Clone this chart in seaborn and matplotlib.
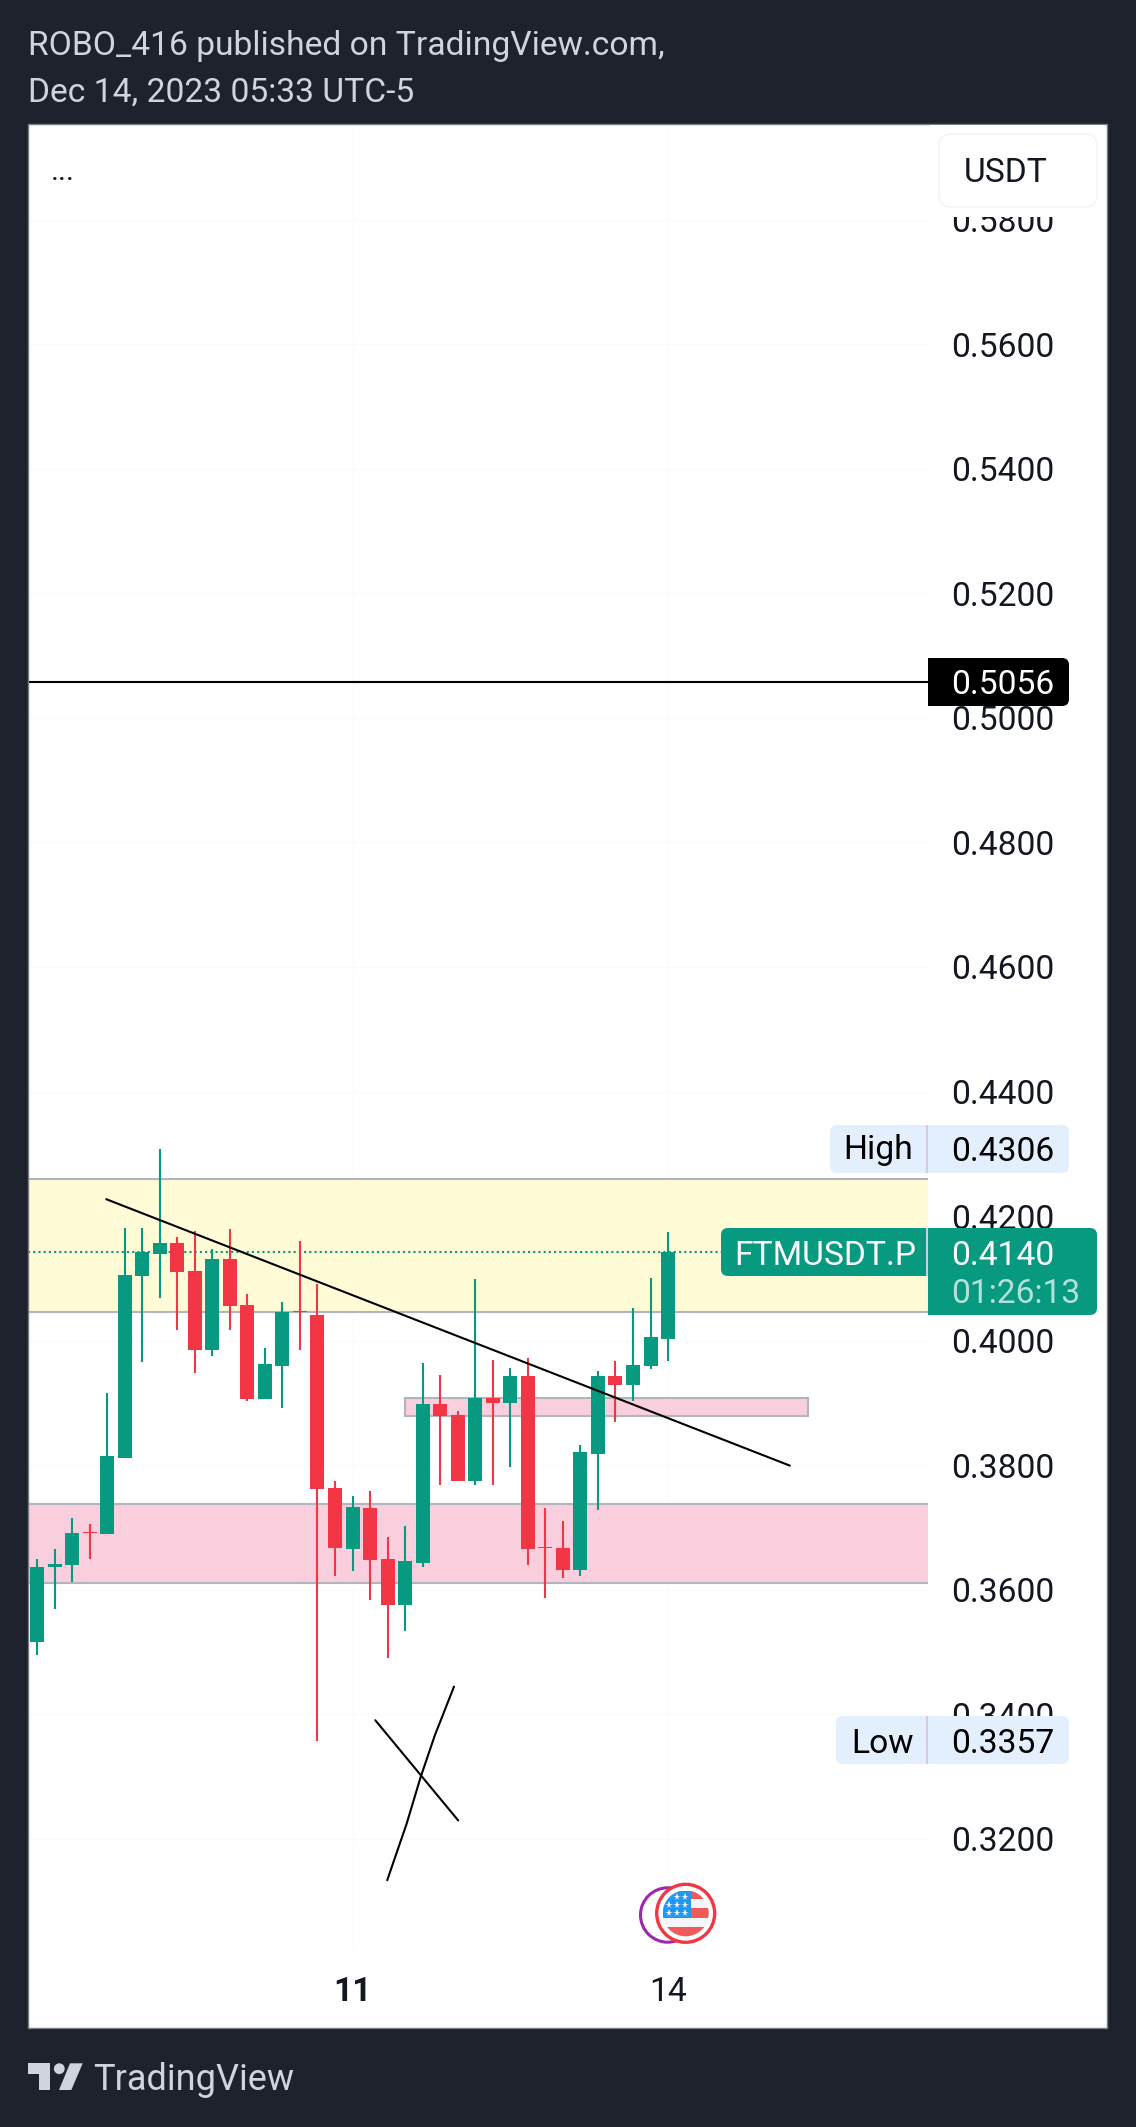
"""
FTMUSDT.P 4h candles as published on TradingView, redrawn with seaborn.
"""

import pandas as pd
import seaborn as sns
import matplotlib.pyplot as plt
from matplotlib.lines import Line2D
from matplotlib.patches import Circle, FancyBboxPatch, Polygon, Rectangle
from matplotlib.transforms import Affine2D


opens = [0.3516, 0.3636, 0.3639, 0.3692, 0.3689, 0.3812, 0.4104, 0.4139, 0.4157,
         0.4112, 0.3985, 0.4131, 0.4057, 0.3906, 0.3959, 0.4047, 0.4041, 0.3763,
         0.3665, 0.3731, 0.3649, 0.3575, 0.3643, 0.3898, 0.3880, 0.3774, 0.3908,
         0.3900, 0.3943, 0.3668, 0.3667, 0.3631, 0.3818, 0.3943, 0.3929, 0.3959,
         0.4003]
highs = [0.3649, 0.3665, 0.3715, 0.3705, 0.3916, 0.4181, 0.4181, 0.4307, 0.4166,
         0.4176, 0.4147, 0.4179, 0.4075, 0.3988, 0.4062, 0.4160, 0.4091, 0.3774,
         0.3750, 0.3758, 0.3684, 0.3702, 0.3964, 0.3945, 0.3887, 0.4099, 0.3969,
         0.3956, 0.3972, 0.3731, 0.3710, 0.3832, 0.3951, 0.3967, 0.4052, 0.4101,
         0.4174]
lows = [0.3494, 0.3568, 0.3612, 0.3649, 0.3689, 0.3812, 0.3965, 0.4069, 0.4017,
        0.3948, 0.3975, 0.4017, 0.3903, 0.3906, 0.3892, 0.3985, 0.3357, 0.3622,
        0.3630, 0.3583, 0.3490, 0.3533, 0.3636, 0.3768, 0.3774, 0.3768, 0.3768,
        0.3797, 0.3639, 0.3587, 0.3619, 0.3622, 0.3728, 0.3869, 0.3903, 0.3954,
        0.3967]
closes = [0.3636, 0.3641, 0.3691, 0.3690, 0.3814, 0.4105, 0.4142, 0.4157, 0.4110,
          0.3985, 0.4131, 0.4055, 0.3906, 0.3962, 0.4046, 0.4045, 0.3762, 0.3667,
          0.3732, 0.3647, 0.3575, 0.3646, 0.3898, 0.3879, 0.3774, 0.3908, 0.3900,
          0.3943, 0.3665, 0.3666, 0.3631, 0.3821, 0.3943, 0.3929, 0.3961, 0.4005,
          0.4142]

price_ticks = [0.32, 0.34, 0.36, 0.38, 0.40, 0.42, 0.44, 0.46, 0.48, 0.50,
               0.52, 0.54, 0.56, 0.58]
time_ticks = [18, 36]
time_labels = ['11', '14']

resistance_zone = [0.4046, 0.4259]
support_zone = [0.3611, 0.3737]
small_zone = [0.3879, 0.3907]
small_zone_bars = [21.0, 44.0]
target_level = 0.5058
last_price = 0.4142

trend_bars = [3.95, 42.95]
trend_prices = [0.4227, 0.3799]
cross_a_bars = [19.30, 24.03]
cross_a_prices = [0.3390, 0.3229]
cross_b_bars = [23.79, 22.70, 21.89, 21.09, 19.98]
cross_b_prices = [0.3444, 0.3366, 0.3299, 0.3224, 0.3133]

WIDTH = 1136
HEIGHT = 2127
DARK = '#1e222d'
GREEN = '#089981'
RED = '#f23645'
INK = '#131722'
BADGE = '#e3effd'
DIVIDER = '#d6c9e8'
ZONE_EDGE = '#b2b5be'
FONT_SIZE = 24.2

# pixel space of the final image, origin at the top left
PIX = Affine2D().scale(1, -1).translate(0, HEIGHT)


def add_box(fig, x0, y0, x1, y1, color, square_left=False, square_right=False):
    """
    Rounded badge, the flagged sides are squared off with a plain rectangle.
    """
    fig.add_artist(FancyBboxPatch((x0, y0), x1 - x0, y1 - y0,
                                  boxstyle='round,pad=0,rounding_size=7',
                                  fc=color, ec='none', transform=PIX))
    if square_left:
        fig.add_artist(Rectangle((x0, y0), 12, y1 - y0, fc=color, ec='none',
                                 transform=PIX))
    if square_right:
        fig.add_artist(Rectangle((x1 - 12, y0), 12, y1 - y0, fc=color, ec='none',
                                 transform=PIX))


def add_text(fig, x, y, text, color=INK, size=FONT_SIZE):
    fig.text(x, y, text, color=color, fontsize=size, va='baseline', transform=PIX)


def draw_candles(ax, data):
    """
    Wicks first, then one seaborn bar layer per candle colour.
    """
    for up, color in [(True, GREEN), (False, RED)]:
        part = data[data['up'] == up]
        ax.vlines(part['bar'], part['low'], part['high'], color=color,
                  linewidth=1.5, zorder=3)
        sns.barplot(data=part, x='bar', y='body', bottom=part['bottom'].values,
                    native_scale=True, color=color, saturation=1, width=0.8,
                    errorbar=None, linewidth=0, zorder=4, ax=ax)


def draw_zones(ax):
    for zone, fill in [(resistance_zone, '#fffbd6'), (support_zone, '#f9cedd')]:
        ax.axhspan(zone[0], zone[1], facecolor=fill, edgecolor='none', zorder=1)
        for level in zone:
            ax.axhline(level, color=ZONE_EDGE, linewidth=1.5, zorder=1.5)
    ax.add_patch(Rectangle((small_zone_bars[0], small_zone[0]),
                           small_zone_bars[1] - small_zone_bars[0],
                           small_zone[1] - small_zone[0], facecolor='#f9cedd',
                           edgecolor=ZONE_EDGE, linewidth=1.5, zorder=1.6))
    ax.axhline(last_price, color=GREEN, linewidth=1.5,
               linestyle=(0, (1, 1.5)), zorder=2)
    ax.axhline(target_level, color='black', linewidth=1.5, zorder=2)


def draw_pen_marks(ax):
    for bars, prices in [(trend_bars, trend_prices),
                         (cross_a_bars, cross_a_prices),
                         (cross_b_bars, cross_b_prices)]:
        sns.lineplot(x=bars, y=prices, sort=False, estimator=None, color='black',
                     linewidth=1.5, solid_capstyle='round', zorder=6, ax=ax)


def draw_flag(fig):
    fig.add_artist(Circle((667.7, 1915), 27.2, fc='white', ec='#9c27b0',
                          linewidth=2.2, transform=PIX))
    fig.add_artist(Circle((685.7, 1913.3), 29, fc='white', ec=RED,
                          linewidth=2.4, transform=PIX))
    disc = Circle((685.7, 1913.3), 23, fc='#f5f6fa', ec='none', transform=PIX)
    fig.add_artist(disc)
    for x, y, w, h, color in [(663, 1891, 28, 27, '#2196f3'),
                              (691, 1890, 20, 9, '#f05a5a'),
                              (691, 1908, 20, 10, '#f05a5a'),
                              (660, 1927, 50, 10, '#f05a5a')]:
        stripe = Rectangle((x, y), w, h, fc=color, ec='none', transform=PIX)
        fig.add_artist(stripe)
        stripe.set_clip_path(disc)
    for x, y in [(677, 1897), (685, 1897),
                 (669, 1905), (677, 1905), (685, 1905),
                 (669, 1913), (677, 1913), (685, 1913)]:
        fig.add_artist(Line2D([x], [y], marker='*', markersize=5.5, color='white',
                              markeredgewidth=0, transform=PIX))


def draw_logo(fig):
    color = '#d1d4dc'
    corners = [(28, 2063.3), (50, 2063.3), (50, 2090), (39, 2090), (39, 2074.3),
               (28, 2074.3)]
    fig.add_artist(Polygon(corners, fc=color, ec='none', transform=PIX))
    fig.add_artist(Circle((59.3, 2068.7), 5.4, fc=color, ec='none', transform=PIX))
    slash = [(70, 2063.3), (82.7, 2063.3), (71.3, 2090), (59, 2090)]
    fig.add_artist(Polygon(slash, fc=color, ec='none', transform=PIX))
    add_text(fig, 93, 2090, 'TradingView', color=color, size=26)


def draw_labels(fig):
    # price badges sit on top of the axis labels
    fig.add_artist(Rectangle((930, 125), 175, 92, fc='white', ec='none', transform=PIX))
    fig.add_artist(FancyBboxPatch((939, 134), 158, 73,
                                  boxstyle='round,pad=0,rounding_size=12',
                                  fc='white', ec='#f0f3fa', linewidth=1,
                                  transform=PIX))
    add_text(fig, 964, 182, 'USDT')
    add_text(fig, 51, 180, '...', size=22)

    add_box(fig, 928, 658, 1069, 706, 'black', square_left=True)
    add_text(fig, 951, 694, '0.5056', color='white')

    for x0, y0, y1, name, name_x, name_base, value, value_base in [
            (830, 1125, 1173, 'High', 843, 1159, '0.4306', 1161),
            (836, 1716, 1764, 'Low', 851, 1753, '0.3357', 1753)]:
        add_box(fig, x0, y0, 1069, y1, BADGE)
        fig.add_artist(Rectangle((926, y0), 2, y1 - y0, fc=DIVIDER, ec='none',
                                 transform=PIX))
        add_text(fig, name_x, name_base, name, color='black')
        add_text(fig, 951, value_base, value, color='black')

    add_box(fig, 721, 1228, 926, 1276, GREEN, square_right=True)
    add_box(fig, 928, 1228, 1097, 1315, GREEN, square_left=True)
    fig.add_artist(Rectangle((926, 1228), 2, 48, fc=DIVIDER, ec='none', transform=PIX))
    add_text(fig, 734, 1265, 'FTMUSDT.P', color='white')
    add_text(fig, 951, 1265, '0.4140', color='white')
    add_text(fig, 951, 1303, '01:26:13', color='#b5e0d9')


def main():
    sns.set_theme(style='white')
    plt.rcParams['font.family'] = ['Roboto', 'DejaVu Sans']

    data = pd.DataFrame({'bar': range(len(opens)), 'open': opens, 'high': highs,
                         'low': lows, 'close': closes})
    data['up'] = data['close'] >= data['open']
    data['bottom'] = data[['open', 'close']].min(axis=1)
    data['body'] = (data['close'] - data['open']).abs()

    fig = plt.figure(figsize=(WIDTH / 100, HEIGHT / 100), dpi=100, facecolor=DARK)
    fig.add_artist(Rectangle((28, 124), 1079, 1904, fc='white', ec='none',
                             transform=PIX, zorder=-1))
    ax = fig.add_axes([28 / WIDTH, 1 - 1950 / HEIGHT, 900 / WIDTH, 1826 / HEIGHT])

    draw_zones(ax)
    draw_candles(ax, data)
    draw_pen_marks(ax)

    ax.set_xlim(-0.513, 50.83)
    ax.set_ylim(0.30209, 0.59542)
    ax.set_xlabel('')
    ax.set_ylabel('')
    ax.set_yticks(price_ticks, [f'{tick:.4f}' for tick in price_ticks])
    ax.set_xticks(time_ticks, time_labels)
    ax.yaxis.tick_right()
    ax.tick_params(axis='y', length=0, pad=16.3, labelsize=FONT_SIZE, colors=INK)
    ax.tick_params(axis='x', length=0, pad=19, labelsize=FONT_SIZE, colors=INK)
    ax.get_xticklabels()[0].set_fontweight('bold')
    ax.grid(True, color='#fafafb', linewidth=1)
    ax.set_axisbelow(True)
    sns.despine(ax=ax, left=True, right=True, top=True, bottom=True)

    # panel outline goes over the axes so it stays even along the left edge
    fig.add_artist(Rectangle((28, 124), 1079, 1904, fc='none', ec='#787b86',
                             linewidth=1, transform=PIX))
    draw_labels(fig)
    draw_flag(fig)
    draw_logo(fig)
    add_text(fig, 28, 55, 'ROBO_416 published on TradingView.com,', color='#d1d4dc')
    add_text(fig, 28, 102, 'Dec 14, 2023 05:33 UTC-5', color='#d1d4dc')

    fig.savefig('out.png', dpi=100, facecolor=DARK)


if __name__ == '__main__':
    main()
